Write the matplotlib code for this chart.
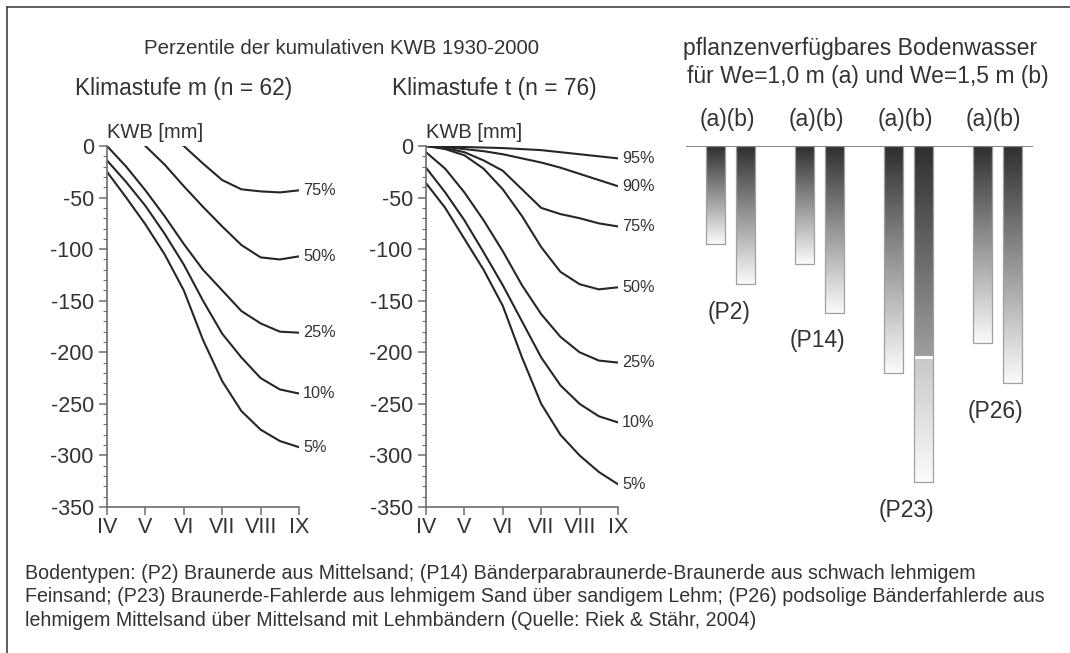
import numpy as np
import matplotlib
matplotlib.use('Agg')
import matplotlib.pyplot as plt
from matplotlib.colors import LinearSegmentedColormap
from matplotlib.lines import Line2D

plt.rcParams['font.family'] = ['Liberation Sans', 'DejaVu Sans']
plt.rcParams['axes.unicode_minus'] = False

nan = np.nan

# ---------------------------
# Daten
# ---------------------------
monate = ['IV', 'V', 'VI', 'VII', 'VIII', 'IX']
t_halb = [0, 0.5, 1, 1.5, 2, 2.5, 3, 3.5, 4, 4.5, 5]

# Klimastufe m (n = 62), kumulative KWB in mm
m_labels = ['75%', '50%', '25%', '10%', '5%']
m_p75 = [nan, nan, nan, nan, 0, -17, -33, -42, -44, -45, -43]
m_p50 = [nan, nan, 0, -18, -39, -59, -78, -96, -108, -110, -107]
m_p25 = [0, -20, -43, -68, -95, -120, -140, -160, -172, -180, -181]
m_p10 = [-14, -35, -58, -85, -115, -150, -182, -205, -225, -236, -240]
m_p5 = [-25, -50, -76, -105, -140, -188, -228, -257, -275, -286, -292]

# Klimastufe t (n = 76)
t_labels = ['95%', '90%', '75%', '50%', '25%', '10%', '5%']
t_p95 = [0, -0.5, -1, -1.5, -2, -3, -4, -6, -8, -10, -12]
t_p90 = [0, -1, -3, -5, -8, -12, -16, -21, -27, -33, -39]
t_p75 = [0, -2, -6, -14, -24, -42, -60, -66, -70, -75, -78]
t_p50 = [0, -3, -9, -22, -42, -68, -98, -122, -134, -139, -137]
t_p25 = [-6, -22, -45, -72, -102, -135, -163, -185, -200, -208, -210]
t_p10 = [-21, -45, -72, -103, -135, -170, -205, -232, -250, -262, -268]
t_p5 = [-36, -60, -90, -120, -155, -205, -250, -280, -300, -316, -328]

# pflanzenverfügbares Bodenwasser (mm)
profile = ['(P2)', '(P14)', '(P23)', '(P26)']
we_a = [95, 114, 220, 191]
we_b = [134, 162, 326, 230]
p23b_trenn = 204

caption = ("Bodentypen: (P2) Braunerde aus Mittelsand; (P14) Bänderparabraunerde-Braunerde aus schwach lehmigem\n"
           "Feinsand; (P23) Braunerde-Fahlerde aus lehmigem Sand über sandigem Lehm; (P26) podsolige Bänderfahlerde aus\n"
           "lehmigem Mittelsand über Mittelsand mit Lehmbändern (Quelle: Riek & Stähr, 2004)")

W, H = 1070, 653
txt = '#333333'
achse = '#6e6e6e'
linie = '#262626'

fig = plt.figure(figsize=(W / 100, H / 100), dpi=100)
fig.patch.set_facecolor('white')


def px(x, y):
    return x / W, 1 - y / H


def kwb_achse(left, kurven, labels):
    ax = fig.add_axes([left / W, 1 - 507 / H, 192 / W, 361 / H])
    for werte, lab in zip(kurven, labels):
        ax.plot(t_halb, werte, color=linie, lw=1.5)
        ax.annotate(lab, xy=(t_halb[-1], werte[-1]), xytext=(3, 0), textcoords='offset points',
                    ha='left', va='center', fontsize=11.7, color=txt, annotation_clip=False)
    ax.set_xlim(0, 5)
    ax.set_ylim(-350, 0)
    ax.set_xticks(range(6))
    ax.set_xticklabels(monate)
    ax.set_yticks(np.arange(-350, 1, 50))
    ax.set_yticks(np.arange(-350, 1, 10), minor=True)
    for s in ['top', 'right']:
        ax.spines[s].set_visible(False)
    for s in ['left', 'bottom']:
        ax.spines[s].set_color(achse)
        ax.spines[s].set_linewidth(1.2)
    ax.tick_params(which='major', length=6, width=1.1, color=achse, labelsize=15.5, labelcolor=txt)
    ax.tick_params(which='minor', length=3, width=0.8, color=achse)
    ax.tick_params(axis='x', pad=1)
    ax.annotate('KWB [mm]', xy=(0, 1), xycoords='axes fraction', xytext=(0, 3),
                textcoords='offset points', ha='left', va='bottom', fontsize=14.5, color=txt)
    return ax


kwb_achse(107, [m_p75, m_p50, m_p25, m_p10, m_p5], m_labels)
kwb_achse(426, [t_p95, t_p90, t_p75, t_p50, t_p25, t_p10, t_p5], t_labels)

# ---------------------------
# Bodenwasser-Balken
# ---------------------------
ax3 = fig.add_axes([686 / W, 1 - 507 / H, 347 / W, 361 / H])
grau = LinearSegmentedColormap.from_list('grau', ['#2e2e2e', '#fbfbfb'])
grp = np.arange(len(profile))
off = 0.168
bw = 0.215
bars_a = ax3.bar(grp - off, [-v for v in we_a], bw, facecolor='none', edgecolor='#a0a0a0', lw=0.9, zorder=3)
bars_b = ax3.bar(grp + off, [-v for v in we_b], bw, facecolor='none', edgecolor='#a0a0a0', lw=0.9, zorder=3)


def verlauf(x0, x1, oben, unten, c0, c1):
    g = np.linspace(c0, c1, 256).reshape(-1, 1)
    ax3.imshow(g, cmap=grau, vmin=0, vmax=1, aspect='auto', origin='upper',
               extent=(x0, x1, unten, oben), zorder=2, interpolation='bilinear')


for i, rect in enumerate(list(bars_a) + list(bars_b)):
    x0, x1 = rect.get_x(), rect.get_x() + rect.get_width()
    unten = rect.get_height()
    if i == len(profile) + 2:
        verlauf(x0, x1, 0, -p23b_trenn, 0.0, 0.55)
        verlauf(x0, x1, -p23b_trenn - 3, unten, 0.75, 1.0)
    else:
        verlauf(x0, x1, 0, unten, 0.0, 1.0)

ax3.axhline(0, color='#7a7a7a', lw=1.3, zorder=4)
for g, p, b in zip(grp, profile, we_b):
    ax3.text(g - 0.02, -b - 27, p, ha='center', va='center', fontsize=16.5, color=txt)
    ax3.text(g - 0.04, 26, '(a)(b)', ha='center', va='center', fontsize=16.5, color=txt, clip_on=False)
ax3.set_xlim(-0.5, 3.4)
ax3.set_ylim(-350, 0)
ax3.axis('off')

# ---------------------------
# Texte
# ---------------------------
fig.text(*px(342, 48), 'Perzentile der kumulativen KWB 1930-2000', ha='center', va='center', fontsize=14.7, color=txt)
fig.text(*px(184, 88), 'Klimastufe m (n = 62)', ha='center', va='center', fontsize=16.4, color=txt)
fig.text(*px(494, 88), 'Klimastufe t (n = 76)', ha='center', va='center', fontsize=16.4, color=txt)
fig.text(*px(683, 49), 'pflanzenverfügbares Bodenwasser', ha='left', va='center', fontsize=16.6, color=txt)
fig.text(*px(687, 76), 'für We=1,0 m (a) und We=1,5 m (b)', ha='left', va='center', fontsize=16.5, color=txt)
fig.text(*px(25, 597), caption, ha='left', va='center', fontsize=14.1, color=txt, linespacing=1.3)

# Rahmen
fig.add_artist(Line2D([7 / W, 7 / W], [0, 1 - 7 / H], color='#444444', lw=1.2))
fig.add_artist(Line2D([7 / W, 1], [1 - 7 / H, 1 - 7 / H], color='#444444', lw=1.2))

fig.savefig('out.png', dpi=100)
